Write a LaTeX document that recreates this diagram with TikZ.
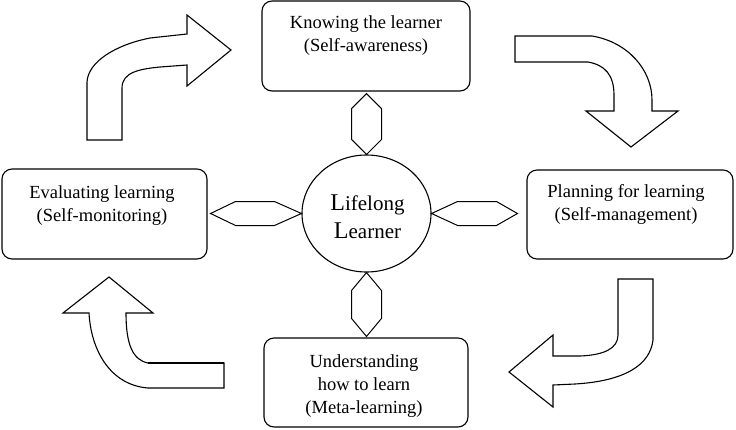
\documentclass[tikz,border=0pt]{standalone}
\usepackage{fontspec}
\setmainfont{Liberation Serif}
\usetikzlibrary{calc,shapes.geometric}

\newcommand\hexlink[5]{%
  \coordinate (hxa) at ($(#1)!#3!(#2)$);
  \coordinate (hxb) at ($(#2)!#4!(#1)$);
  \draw[hexstyle] (#1) -- ($(hxa)!#5!90:(#2)$) -- ($(hxb)!#5!-90:(#1)$) -- (#2)
        -- ($(hxb)!#5!90:(#1)$) -- ($(hxa)!#5!-90:(#2)$) -- cycle;}

\begin{document}
\begin{tikzpicture}[x=1pt,y=-1pt,
  line width=1.1pt,
  stage/.style={draw, rounded corners=10pt, inner sep=0pt},
  stagetext/.style={inner sep=0pt, align=center, font=\fontsize{18.5}{23}\selectfont},
  coretext/.style={inner sep=0pt, align=center, font=\fontsize{21}{28}\selectfont},
  hexstyle/.style={draw, line width=1pt, line join=miter},
  bentarrow/.style={draw, line width=1.1pt, line join=miter}]
\useasboundingbox (0,0) rectangle (736,429);

% stage boxes
\node[stage, minimum width=208pt, minimum height=90pt] (know) at (366,46) {};
\node[stage, minimum width=205pt, minimum height=90pt] (evalb) at (104.5,214) {};
\node[stage, minimum width=206pt, minimum height=89pt] (plan) at (630,214.5) {};
\node[stage, minimum width=204pt, minimum height=89pt] (meta) at (366,382.5) {};

\node[stagetext, anchor=north] (knowtxt) at ($(know.north)+(0,14.4)$) {Knowing the learner\\(Self-awareness)};
\node[stagetext, anchor=north] (evaltxt) at ($(evalb.north)+(-2.5,16.4)$) {Evaluating learning\\(Self-monitoring)};
\node[stagetext, anchor=north] (plantxt) at ($(plan.north)+(-4,14.4)$) {Planning for learning\\(Self-management)};
\node[stagetext, anchor=north] (metatxt) at ($(meta.north)+(-2,16.4)$) {Understanding\\how to learn\\(Meta-learning)};

% centre
\node[draw, ellipse, minimum width=129pt, minimum height=117pt, inner sep=0pt] (core) at (366.5,213.5) {};
\node[coretext, anchor=north] (coretxt) at (367.5,194.5)
  {{\fontsize{24}{28}\selectfont L}ifelong\\{\fontsize{24}{28}\selectfont L}earner};

% hexagonal links
\coordinate (lefttip) at ($(evalb.east)+(3,-0.5)$);
\coordinate (righttip) at ($(plan.west)+(-9,-1)$);
\coordinate (toptip) at ($(know.south)+(0.5,2)$);
\coordinate (bottip) at ($(meta.north)+(0.5,-1)$);
\hexlink{core.north}{toptip}{15pt}{15pt}{15pt}
\hexlink{lefttip}{core.west}{25pt}{27pt}{12pt}
\hexlink{core.east}{righttip}{26pt}{21pt}{12pt}
\hexlink{core.south}{bottip}{18pt}{18pt}{15pt}

% bent block arrows
\draw[bentarrow] (87,140) -- (87,82) .. controls (88,62) and (115,45) .. (150,38) -- (187,34)
  -- (187,15) -- (231,50) -- (187,86) -- (187,65) -- (160,67)
  .. controls (140,69) and (122,72) .. (122,88) -- (122,140) -- cycle;

\draw[bentarrow] (515,36) -- (592,36) .. controls (628,42) and (652,70) .. (652,100) -- (652,111)
  -- (678,111) -- (631,147) -- (586,111) -- (614,111) -- (614,95)
  .. controls (614,75) and (605,65) .. (588,62) -- (515,62) -- cycle;

\draw[bentarrow] (618,279) -- (653,279) -- (653,340) .. controls (650,365) and (625,381) .. (575,384)
  -- (553,385) -- (553,407) -- (509,372) -- (553,335) -- (553,356) -- (580,356)
  .. controls (605,355) and (618,348) .. (618,335) -- cycle;

\draw[bentarrow] (224,363) -- (148,363) .. controls (133,360) and (126,345) .. (126,313)
  -- (153,313) -- (109,277) -- (63,313) -- (89,313)
  .. controls (91,350) and (110,385) .. (148,388) -- (224,388) -- cycle;
\draw[line width=2.6pt] (148,363) -- (224,363);
\end{tikzpicture}
\end{document}
